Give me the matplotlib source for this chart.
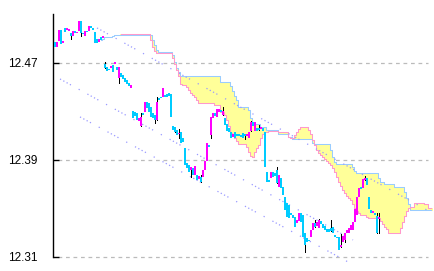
import matplotlib
matplotlib.use('Agg')
import matplotlib.pyplot as plt
import numpy as np

# candle data (open / close), one per period
opens = [12.4873, 12.4832, 12.4881, 12.4972, 12.4865, 12.4988, 12.4972, 12.4964, 12.4947, 12.4922,
         12.4964, 12.4947, 12.4964, 12.5046, 12.4947, 12.4922, 12.4964, 12.4964, 12.5005, 12.4988,
         12.4955, 12.4898, 12.4873, 12.4914, 12.4906,
         12.4692, 12.4667, 12.4651, 12.4659, 12.4684, 12.4692, 12.4667, 12.4576, 12.4618, 12.4601,
         12.4576, 12.4560, 12.4535, 12.4494,
         12.4305, 12.4296, 12.4288, 12.4222, 12.4181, 12.4288, 12.4296, 12.4379, 12.4371, 12.4338,
         12.4288, 12.4272, 12.4231, 12.4412, 12.4420, 12.4420, 12.4436, 12.4445, 12.4453, 12.4445,
         12.4181, 12.4173, 12.4148, 12.4115, 12.4132, 12.4082, 12.4000, 12.3877, 12.3860, 12.3819,
         12.3835, 12.3778, 12.3778, 12.3745, 12.3761, 12.3761, 12.3819, 12.3893, 12.4025, 12.4107,
         12.4247, 12.4288, 12.4255, 12.4296, 12.4313, 12.4272, 12.4247, 12.4198, 12.4165, 12.4132,
         12.4091, 12.4132, 12.4115, 12.4115, 12.4107, 12.4124, 12.4115, 12.4099, 12.4082, 12.4140,
         12.4214, 12.4140, 12.4165, 12.4165, 12.4156, 12.4165, 12.4132, 12.3802, 12.3737, 12.3753,
         12.3802, 12.3794, 12.3819, 12.3679, 12.3753, 12.3679, 12.3597, 12.3547, 12.3531, 12.3465,
         12.3448, 12.3432, 12.3382, 12.3399, 12.3465, 12.3448, 12.3300, 12.3259, 12.3242, 12.3267,
         12.3325, 12.3382, 12.3358, 12.3341, 12.3399, 12.3374, 12.3358, 12.3333, 12.3333, 12.3341,
         12.3349, 12.3284, 12.3267, 12.3267, 12.3185, 12.3226, 12.3242, 12.3300, 12.3300, 12.3325,
         12.3325, 12.3391, 12.3448, 12.3597, 12.3679, 12.3671, 12.3737, 12.3753, 12.3597, 12.3490,
         12.3465, 12.3465, 12.3440, 12.3415]
closes = [12.4832, 12.4873, 12.4972, 12.4856, 12.4881, 12.4955, 12.4988, 12.4980, 12.4922, 12.4964,
          12.4947, 12.4955, 12.5046, 12.4947, 12.4939, 12.4964, 12.4955, 12.5005, 12.4988, 12.4972,
          12.4865, 12.4865, 12.4898, 12.4889, 12.4922,
          12.4659, 12.4634, 12.4642, 12.4675, 12.4626, 12.4708, 12.4642, 12.4667, 12.4585, 12.4568,
          12.4544, 12.4527, 12.4511, 12.4519,
          12.4247, 12.4264, 12.4231, 12.4247, 12.4255, 12.4272, 12.4379, 12.4329, 12.4296, 12.4255,
          12.4247, 12.4231, 12.4379, 12.4395, 12.4412, 12.4494, 12.4420, 12.4420, 12.4428, 12.4255,
          12.4148, 12.4132, 12.4107, 12.4124, 12.4041, 12.4049, 12.3860, 12.3835, 12.3802, 12.3844,
          12.3778, 12.3852, 12.3737, 12.3769, 12.3720, 12.3819, 12.3893, 12.4041, 12.4008, 12.4255,
          12.4288, 12.4264, 12.4321, 12.4321, 12.4296, 12.4305, 12.4189, 12.4140, 12.4132, 12.4082,
          12.4115, 12.4082, 12.4099, 12.4099, 12.4091, 12.4082, 12.4099, 12.4115, 12.4132, 12.4214,
          12.4181, 12.4214, 12.4140, 12.4148, 12.4173, 12.4140, 12.3844, 12.3720, 12.3720, 12.3802,
          12.3761, 12.3769, 12.3712, 12.3778, 12.3671, 12.3613, 12.3490, 12.3432, 12.3424, 12.3448,
          12.3424, 12.3349, 12.3407, 12.3465, 12.3391, 12.3267, 12.3201, 12.3226, 12.3234, 12.3325,
          12.3382, 12.3349, 12.3391, 12.3407, 12.3374, 12.3341, 12.3325, 12.3308, 12.3308, 12.3317,
          12.3300, 12.3267, 12.3259, 12.3160, 12.3201, 12.3275, 12.3300, 12.3325, 12.3341, 12.3366,
          12.3391, 12.3498, 12.3597, 12.3671, 12.3662, 12.3745, 12.3753, 12.3695, 12.3498, 12.3465,
          12.3481, 12.3448, 12.3300, 12.3432]

# visible shadows (period, high, low)
wick_idx = [8, 13, 25, 32, 43, 50, 51, 60, 62, 68, 73, 78, 84, 95, 98, 102, 111, 125, 130, 132,
            138, 143, 145, 155, 161, 162]
wick_hi = [12.4947, 12.5046, 12.4708, 12.4667, 12.4288, 12.4272, 12.4420, 12.4165, 12.4156, 12.3844,
           12.3778, 12.4255, 12.4338, 12.4115, 12.4222, 12.4189, 12.3844, 12.3300, 12.3407, 12.3415,
           12.3407, 12.3292, 12.3300, 12.3769, 12.3465, 12.3465]
wick_lo = [12.4898, 12.4922, 12.4659, 12.4535, 12.4181, 12.4206, 12.4231, 12.4132, 12.4082, 12.3761,
           12.3720, 12.4082, 12.4272, 12.4074, 12.4140, 12.4148, 12.3712, 12.3144, 12.3349, 12.3374,
           12.3317, 12.3185, 12.3226, 12.3737, 12.3300, 12.3300]

# cloud spans (already shifted forward)
span_a_start = 23
span_a = [12.4889, 12.4898, 12.4914, 12.4914, 12.4914, 12.4914, 12.4922,
          12.4931, 12.4931, 12.4931, 12.4931, 12.4931, 12.4931, 12.4931, 12.4931, 12.4931, 12.4931,
          12.4931, 12.4931, 12.4931, 12.4931, 12.4931, 12.4931, 12.4931, 12.4931, 12.4931,
          12.4889, 12.4848, 12.4807, 12.4791, 12.4791, 12.4791, 12.4791, 12.4791, 12.4791, 12.4791,
          12.4766, 12.4708, 12.4659, 12.4626,
          12.4593, 12.4593, 12.4593, 12.4593, 12.4593, 12.4593, 12.4593, 12.4593, 12.4593, 12.4593,
          12.4593, 12.4593, 12.4593, 12.4593, 12.4593, 12.4593, 12.4593, 12.4593, 12.4593, 12.4593,
          12.4544, 12.4544, 12.4544, 12.4544, 12.4544, 12.4511, 12.4469, 12.4428, 12.4395,
          12.4338, 12.4338, 12.4338, 12.4338, 12.4338, 12.4313, 12.4247, 12.4206,
          12.4198, 12.4198, 12.4198, 12.4173, 12.4173, 12.4173,
          12.4148, 12.4148, 12.4148, 12.4148, 12.4148, 12.4148,
          12.4115, 12.4115, 12.4115, 12.4115, 12.4115, 12.4091, 12.4091,
          12.4074, 12.4074, 12.4074, 12.4074, 12.4074, 12.4074, 12.4074, 12.4074, 12.4074, 12.4074,
          12.4041, 12.4033, 12.4033, 12.4033, 12.4033, 12.4033, 12.4033, 12.4033, 12.4033,
          12.3984, 12.3926, 12.3885,
          12.3868, 12.3868, 12.3868, 12.3868, 12.3868, 12.3868, 12.3868, 12.3868, 12.3844, 12.3811,
          12.3794, 12.3794, 12.3794, 12.3794, 12.3794, 12.3794, 12.3794, 12.3794, 12.3794, 12.3794,
          12.3794, 12.3753, 12.3720, 12.3720,
          12.3704, 12.3704, 12.3704, 12.3704, 12.3704, 12.3679, 12.3679, 12.3679, 12.3679, 12.3679,
          12.3638, 12.3588, 12.3539,
          12.3490, 12.3490, 12.3490, 12.3490, 12.3490, 12.3490, 12.3490, 12.3490, 12.3490, 12.3490,
          12.3490]
span_b_start = 33
span_b = [12.4939, 12.4939, 12.4939, 12.4939, 12.4939, 12.4939, 12.4939, 12.4939, 12.4939, 12.4939,
          12.4939, 12.4939, 12.4939, 12.4939, 12.4939,
          12.4889, 12.4832, 12.4799, 12.4782, 12.4782, 12.4782, 12.4782, 12.4782, 12.4782, 12.4782,
          12.4782, 12.4741, 12.4692, 12.4642, 12.4593, 12.4527, 12.4519, 12.4519, 12.4502, 12.4478,
          12.4453, 12.4436, 12.4420, 12.4395,
          12.4371, 12.4371, 12.4371, 12.4371, 12.4371, 12.4371, 12.4371, 12.4371,
          12.4354, 12.4354, 12.4354, 12.4296, 12.4296, 12.4272, 12.4231, 12.4181, 12.4124, 12.4107,
          12.4082, 12.4058, 12.4033, 12.4033, 12.4033, 12.4033, 12.4008, 12.3967, 12.3934, 12.3926,
          12.3967, 12.4000, 12.4025, 12.4082, 12.4115, 12.4132, 12.4132,
          12.4140, 12.4140, 12.4140, 12.4140, 12.4140, 12.4132, 12.4132, 12.4132, 12.4132, 12.4132,
          12.4091, 12.4082, 12.4082, 12.4107, 12.4132, 12.4156, 12.4173, 12.4173, 12.4173, 12.4173,
          12.4148, 12.4115, 12.4066, 12.4025, 12.3984, 12.3959, 12.3942, 12.3926, 12.3909, 12.3893,
          12.3877, 12.3860, 12.3835, 12.3802, 12.3761, 12.3720, 12.3687, 12.3654, 12.3629, 12.3605,
          12.3588, 12.3572, 12.3539, 12.3506, 12.3481, 12.3465, 12.3448, 12.3448, 12.3448, 12.3432,
          12.3424, 12.3424, 12.3424, 12.3424, 12.3424, 12.3424, 12.3399, 12.3374, 12.3349, 12.3333,
          12.3300, 12.3300, 12.3300, 12.3300, 12.3300, 12.3300, 12.3341, 12.3391, 12.3440, 12.3481,
          12.3506, 12.3514, 12.3514, 12.3547, 12.3547, 12.3547, 12.3547, 12.3547, 12.3539, 12.3539,
          12.3506, 12.3506]

# trend channel lines: (start period, end period, start price, end price)
chan_x0 = [21.0, 2.5, 12.5]
chan_x1 = [186.0, 149.0, 147.5]
chan_y0 = [12.4989, 12.4568, 12.4255]
chan_y1 = [12.3487, 12.3240, 12.3050]

yticks = [12.31, 12.39, 12.47]

fig = plt.figure(figsize=(4.34, 2.71), dpi=100)
ax = fig.add_axes([53 / 434, 0, 381 / 434, 257 / 271])
ax.set_xlim(-1, 189.5)
ax.set_ylim(12.2984, 12.5104)

o = np.array(opens)
c = np.array(closes)
idx = np.arange(len(o))

# cloud: vertical yellow stripes between the spans
ja = np.arange(len(span_a)) + span_a_start
jb = np.arange(len(span_b)) + span_b_start
a_on_b = np.array(span_a)[jb - span_a_start]
ax.vlines(jb, a_on_b, np.array(span_b), color='#FFFF99', lw=0.75, zorder=1, antialiased=False)
ax.plot(ja, span_a, color='#99CCFF', lw=0.75, drawstyle='steps-mid', zorder=2)
ax.plot(jb, span_b, color='#FF99CC', lw=0.75, drawstyle='steps-mid', zorder=2)

for k in range(len(chan_x0)):
    ax.plot([chan_x0[k], chan_x1[k]], [chan_y0[k], chan_y1[k]], color='#9999FF',
            lw=0.9, ls=(0, (1, 2, 1, 2, 1, 2, 1, 7, 1, 7)), zorder=2, clip_on=False)

for k, i in enumerate(wick_idx):
    ax.vlines(i, wick_lo[k], wick_hi[k], color='black', lw=0.72, zorder=3, antialiased=False)

cols = np.where(c > o, '#FF00FF', '#00CCFF')
h = c - o
h = np.where(np.abs(h) < 0.0009, np.where(h < 0, -0.0009, 0.0009), h)
ax.bar(idx, h, bottom=o, width=1.0, color=cols, linewidth=0, zorder=4, antialiased=False)

for v in yticks:
    ax.axhline(v, xmin=0.013, xmax=0.984, color='#BBBBBB', lw=0.9, ls=(0, (3, 3)), zorder=0)

for s in ['top', 'right', 'bottom']:
    ax.spines[s].set_visible(False)
ax.spines['left'].set_bounds(12.31, 12.5104)
ax.spines['left'].set_linewidth(1.0)
ax.set_xticks([])
ax.set_yticks(yticks)
ax.set_yticklabels(['%.2f' % v for v in yticks],
                   family=['Liberation Sans Narrow', 'Liberation Sans', 'DejaVu Sans'], fontsize=8.5)
ax.tick_params(axis='y', direction='in', length=4, width=1.0, pad=11)

fig.savefig('out.png', dpi=100)
